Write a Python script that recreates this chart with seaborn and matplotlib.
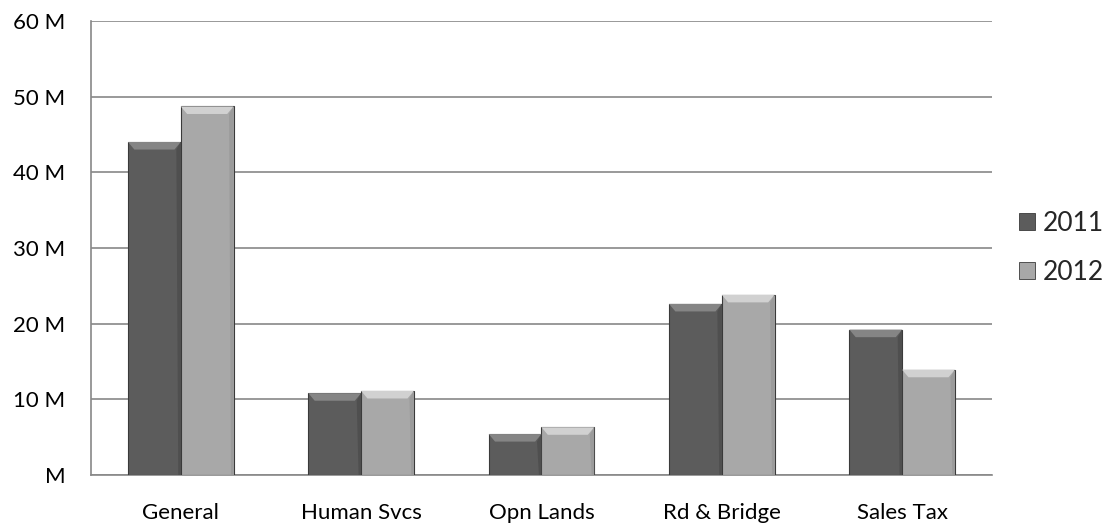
import numpy as np
import pandas as pd
import matplotlib
matplotlib.use('Agg')
import matplotlib.pyplot as plt
import seaborn as sns
from matplotlib.patches import Polygon, Patch
from matplotlib.ticker import FuncFormatter

categories = ["General", "Human Svcs", "Opn Lands", "Rd & Bridge", "Sales Tax"]
years = ["2011", "2012"]
vals_2011 = [44.0, 10.8, 5.4, 22.6, 19.2]
vals_2012 = [48.7, 11.1, 6.3, 23.8, 13.9]

df = pd.DataFrame({
    "category": categories * 2,
    "year": [years[0]] * len(categories) + [years[1]] * len(categories),
    "value": vals_2011 + vals_2012,
})

sns.set_theme(style="white")
plt.rcParams['font.family'] = ['Lato', 'DejaVu Sans']

fig, ax = plt.subplots(figsize=(11.05, 5.23), dpi=100)
fig.subplots_adjust(left=0.082, right=0.898, top=0.96, bottom=0.092)

colors = {"2011": "#5c5c5c", "2012": "#a8a8a8"}
sns.barplot(data=df, x="category", y="value", hue="year", palette=colors,
            width=0.585, gap=0, edgecolor="#3a3a3a", linewidth=0.8,
            legend=False, ax=ax, zorder=3)

# light bevel on the top of each bar
for p in ax.patches:
    x0, y0 = p.get_x(), p.get_y()
    w, h = p.get_width(), p.get_height()
    if h <= 0:
        continue
    fc = p.get_facecolor()
    light = tuple(min(1, c + 0.16) for c in fc[:3])
    dh = 1.0
    inset = w * 0.12
    top = Polygon([(x0, y0 + h), (x0 + w, y0 + h), (x0 + w - inset, y0 + h - dh),
                   (x0 + inset, y0 + h - dh)], closed=True, facecolor=light,
                  edgecolor="none", zorder=4)
    ax.add_patch(top)
    side = Polygon([(x0 + w, y0 + h), (x0 + w, y0), (x0 + w - inset * 0.4, y0),
                    (x0 + w - inset * 0.7, y0 + h - dh)], closed=True,
                   facecolor=tuple(max(0, c - 0.05) for c in fc[:3]),
                   edgecolor="none", zorder=4)
    ax.add_patch(side)

ax.set_ylim(0, 60)
ax.set_yticks(range(0, 61, 10))
ax.yaxis.set_major_formatter(FuncFormatter(lambda v, _: "M" if v == 0 else f"{int(v)} M"))
ax.grid(axis="y", color="#888888", linewidth=1.2, zorder=0)
ax.set_axisbelow(True)
ax.set_xlabel("")
ax.set_ylabel("")
for s in ["top", "right"]:
    ax.spines[s].set_visible(False)
for s in ["left", "bottom"]:
    ax.spines[s].set_color("#888888")
    ax.spines[s].set_linewidth(1.2)
ax.tick_params(axis="y", labelsize=16, pad=18, length=0, colors="#000000")
ax.tick_params(axis="x", labelsize=16, pad=20, length=0, colors="#000000")

handles = [Patch(facecolor=colors[y], edgecolor="#3a3a3a", linewidth=0.6) for y in years]
ax.legend(handles, years, loc="center left", bbox_to_anchor=(1.0, 0.5), frameon=False,
          fontsize=19, handlelength=0.6, handleheight=0.6, handletextpad=0.3,
          labelspacing=0.9, borderaxespad=0.6)

plt.savefig("out.png", dpi=100)
